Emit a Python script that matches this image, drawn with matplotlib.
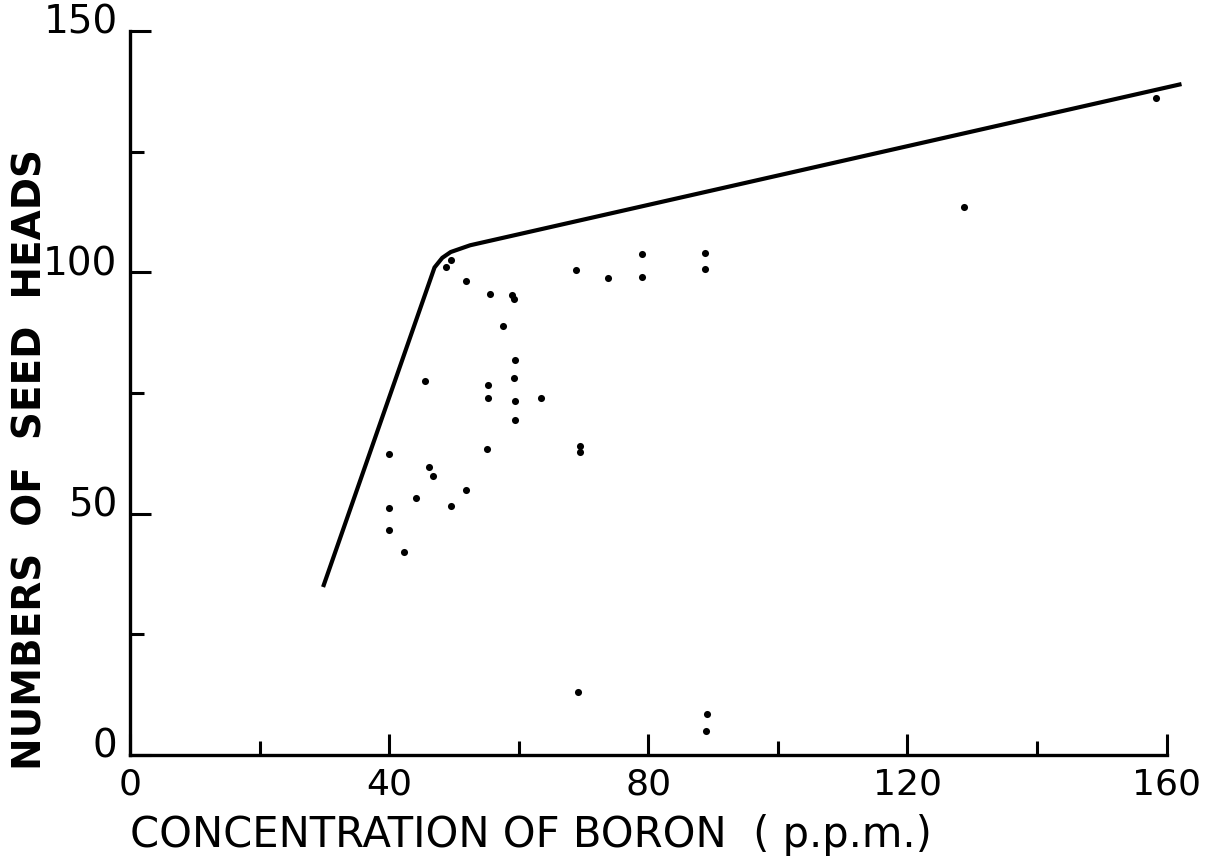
import matplotlib
matplotlib.use("Agg")
import matplotlib.pyplot as plt
import matplotlib.transforms as mtransforms
from matplotlib.ticker import MultipleLocator

# data
boron = [49.5, 48.8, 51.8, 55.6, 59.0, 59.2, 57.6, 68.8, 73.8, 79.0, 79.0,
         88.7, 88.8, 45.5, 59.4, 59.3, 55.2, 55.2, 59.4, 63.5, 59.4, 55.1,
         69.4, 69.4, 40.0, 46.1, 46.8, 51.9, 44.2, 49.5, 39.9, 39.9, 42.3,
         69.2, 89.0, 88.9, 128.8, 158.3]
heads = [102.6, 101.2, 98.1, 95.5, 95.4, 94.5, 88.9, 100.4, 98.8, 103.7, 99.0,
         104.0, 100.7, 77.4, 81.8, 78.1, 76.7, 74.0, 73.3, 74.0, 69.3, 63.4,
         64.1, 62.7, 62.3, 59.6, 57.7, 55.0, 53.2, 51.5, 51.1, 46.7, 42.0,
         13.0, 8.5, 4.9, 113.6, 136.2]

fit_x = [29.8, 47.0, 48.2, 49.5, 52.5, 162.3]
fit_y = [34.8, 101.0, 103.0, 104.2, 105.6, 139.0]

x_ticks = [0, 40, 80, 120, 160]
y_ticks = [0, 50, 100, 150]

fig = plt.figure(figsize=(12.1, 8.65), dpi=100)
ax = fig.add_axes([130 / 1210, 110 / 865, (1199 - 130) / 1210, (755 - 21.3) / 865])

ax.plot(fit_x, fit_y, color="black", lw=3.0, solid_capstyle="butt", solid_joinstyle="round")
ax.scatter(boron, heads, s=26, color="black", zorder=3, linewidths=0)

ax.set_xlim(0, 165)
ax.set_ylim(0, 152)

for s in ["top", "right"]:
    ax.spines[s].set_visible(False)
ax.spines["left"].set_linewidth(2.4)
ax.spines["bottom"].set_linewidth(2.4)
ax.spines["left"].set_bounds(0, 150)
ax.spines["bottom"].set_bounds(0, 160)

ax.set_xticks(x_ticks)
ax.set_yticks(y_ticks)
ax.xaxis.set_minor_locator(MultipleLocator(20))
ax.yaxis.set_minor_locator(MultipleLocator(25))
ax.tick_params(which="major", direction="in", length=15, width=2.2, color="black")
ax.tick_params(which="minor", direction="in", length=10, width=2.2, color="black")
ax.tick_params(axis="x", which="major", pad=9, labelsize=26)
ax.tick_params(axis="y", which="major", pad=9, labelsize=28)

offset = mtransforms.ScaledTranslation(0, 12 / 100, fig.dpi_scale_trans)
for lab in ax.get_yticklabels():
    lab.set_transform(lab.get_transform() + offset)

fig.text(130 / 1210, 1 - 835 / 865, "CONCENTRATION OF BORON  ( p.p.m.)",
         fontsize=30, ha="left", va="center")
fig.text(31 / 1210, 1 - 460 / 865, "NUMBERS  OF  SEED  HEADS",
         fontsize=28, fontweight="bold", rotation=90, ha="center", va="center")

fig.savefig("out.png", dpi=100)
